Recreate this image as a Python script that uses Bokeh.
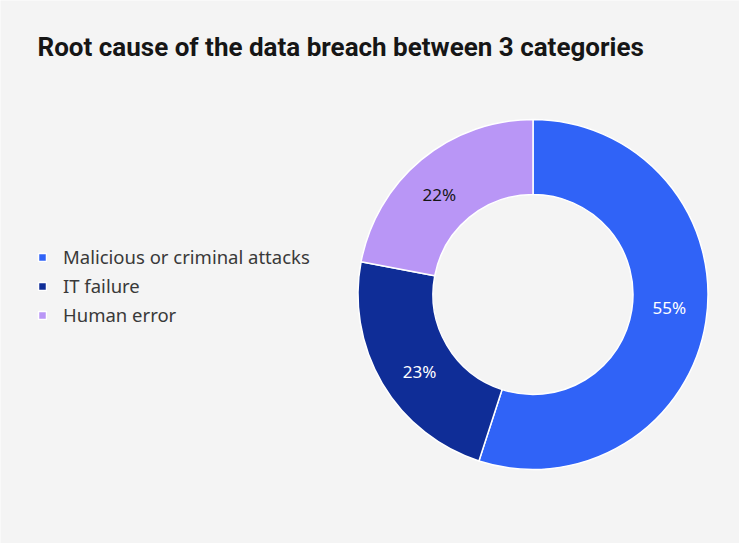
import math
from bokeh.plotting import figure
from bokeh.models import Range1d, Legend, LegendItem, Label, ColumnDataSource
from bokeh.core.properties import value
from bokeh.embed import file_html
from bokeh.resources import INLINE

title_text = "Root cause of the data breach between 3 categories"
categories = ["Malicious or criminal attacks", "IT failure", "Human error"]
shares = [55, 23, 22]
colors = ["#3063f7", "#0f2d97", "#b996f6"]
label_colors = ["#ffffff", "#ffffff", "#161616"]

BG = "#f4f4f4"
W, H = 739, 543
cx, cy = 532.5, 249.0
r_out, r_in, r_lab = 175.0, 100.0, 137.0
label_shift = math.radians(3.5)

total = float(sum(shares))
starts, ends, lx, ly, texts = [], [], [], [], []
acc = 0.0
for v in shares:
    a0 = math.pi / 2 - 2 * math.pi * acc / total
    a1 = math.pi / 2 - 2 * math.pi * (acc + v) / total
    starts.append(a0)
    ends.append(a1)
    mid = (a0 + a1) / 2 + label_shift
    lx.append(cx + r_lab * math.cos(mid))
    ly.append(cy + r_lab * math.sin(mid))
    texts.append(f"{v}%")
    acc += v

src = ColumnDataSource(dict(start=starts, end=ends, color=colors, cat=categories,
                            lx=lx, ly=ly, txt=texts, tcol=label_colors))

p = figure(width=W, height=H, output_backend="svg", toolbar_location=None,
           x_range=Range1d(0, W), y_range=Range1d(0, H), min_border=0)
p.axis.visible = False
p.grid.visible = False
p.outline_line_color = None
p.background_fill_color = BG
p.border_fill_color = BG

wedges = p.annular_wedge(x=cx, y=cy, inner_radius=r_in, outer_radius=r_out,
                         start_angle="start", end_angle="end", direction="clock",
                         fill_color="color", line_color="white", line_width=1.5,
                         source=src)

p.text(x="lx", y="ly", text="txt", text_color="tcol", source=src,
       text_font=value("Noto Sans"), text_font_size="17px",
       text_align="center", text_baseline="middle")

title = Label(x=37, y=497, text=title_text, text_font="Roboto",
              text_font_size="26px", text_font_style="bold", text_color="#161616",
              text_baseline="alphabetic")
p.add_layout(title)

items = [LegendItem(label=c, renderers=[wedges], index=i) for i, c in enumerate(categories)]
legend = Legend(items=items, location=(37, 216), orientation="vertical",
                glyph_width=10, glyph_height=10, label_standoff=16, spacing=4,
                padding=0, margin=0, border_line_alpha=0, background_fill_alpha=0,
                label_text_font="Noto Sans", label_text_font_size="18.5px",
                label_text_color="#393939", label_height=20)
p.add_layout(legend, "center")

open("out.html", "w").write(file_html(p, INLINE))
